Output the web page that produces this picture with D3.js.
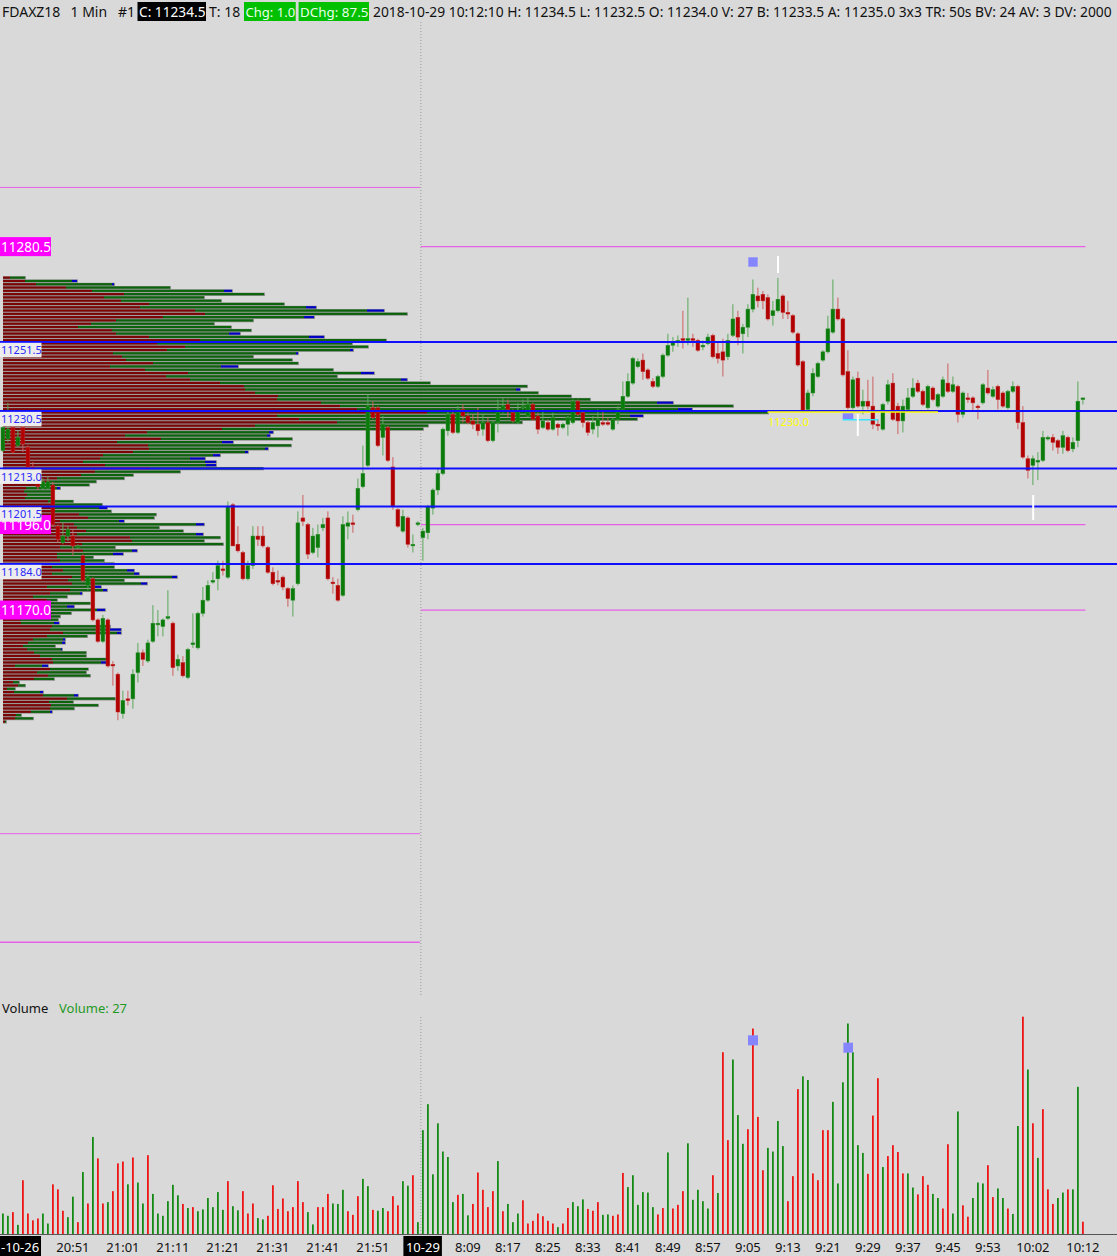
<!DOCTYPE html>
<html><head><meta charset="utf-8">
<script src="https://cdn.jsdelivr.net/npm/d3@7"></script>
<style>html,body{margin:0;padding:0;background:#d9d9d9;overflow:hidden}text{font-family:"Noto Sans",sans-serif}</style>
</head><body>
<svg id="c" width="1117" height="1256"></svg>
<script>
// ---------- DATA ----------
const opens = [11218.5,11222,11225.5,11220,11225.5,11219.5,11213.5,11208.5,11207,11207,11208,11195.5,11190.5,11192.5,11192.5,11189,11186.5,11177.5,11179.5,11167,11160.5,11167,11153.5,11150.5,11138.5,11143,11143,11151,11157,11154.5,11160.5,11165.5,11165,11167.5,11166,11153,11154,11149.5,11159.5,11158.5,11169,11173,11178.5,11179.5,11182.5,11180,11202,11190,11187.5,11179.5,11183.5,11192.5,11192.5,11189,11181.5,11179,11180,11176.5,11173,11178,11198,11196,11187.5,11189,11195,11198,11178.5,11177.5,11174.5,11195.5,11196.5,11200.5,11207.5,11214,11231.5,11231.5,11222.5,11225.5,11213.5,11200.5,11194,11198,11189.5,11196,
11192,11193.5,11201,11206.5,11211.5,11224.5,11229.5,11224,11231,11229,11227.5,11226.5,11225,11227,11221.5,11227,11231,11232.5,11230,11227,11231.5,11229,11232.5,11229,11225.5,11227,11225,11226.5,11225.5,11226.5,11227,11233.5,11230,11227,11225,11226,11227,11227,11225,11228,11231,11235,11239,11244,11246,11243,11239.5,11238,11241,11247.5,11250.5,11251.5,11252.5,11252,11252.5,11252,11250,11251,11253.5,11248,11248.5,11247,11253.5,11259,11254,11256,11261.5,11265.5,11266,11265,11259.5,11261,11265.5,11260.5,11259.5,11254,11245.5,11231,11236,11241,11246,11248.5,11254.5,11261.5,11258.5,11242.5,11231.5,11240.5,11232,11233.5,11232,11226.5,11225,11233.5,11239,11232,11227.5,11231,11235,11239,11236.5,11231.5,11237.5,11232,11235,11239,11236.5,11238,11229.5,11234.5,11234.5,11232,11233,11237.5,11235,11238,11236,11231.5,11236.5,11238,11227,11216,11214,11215,11215.5,11222,11222.5,11221.5,11219.5,11222.5,11219,11221.5,11234];
const highs = [11226,11233,11226,11224.5,11226,11220,11215,11209,11210,11210.5,11209,11196,11196.5,11195.5,11194.5,11190,11187,11181,11180,11167.5,11168.5,11167.5,11154.5,11151,11145.5,11145.5,11152,11160,11158,11161,11171.5,11170,11167.5,11176,11166.5,11156.5,11156,11158.5,11169,11169.5,11177,11179,11181.5,11185,11185,11203,11202.5,11195.5,11188,11185,11195.5,11195.5,11195.5,11189.5,11183,11182,11180.5,11177,11177.5,11200,11205,11196.5,11195,11196,11198,11200,11180,11179.5,11198.5,11200,11199,11210,11220,11235.5,11233.5,11232,11229,11226,11216.5,11201,11200.5,11198.5,11193,11197,
11195,11202,11207,11213,11225.5,11230.5,11231,11232,11232.5,11230,11229.5,11231.5,11229.5,11228.5,11227.5,11234,11234.5,11234,11231,11233,11234,11234.5,11233,11230,11231,11228,11230,11227,11227,11229,11234,11234,11230.5,11227.5,11229,11231,11230.5,11228.5,11228.5,11232,11239.5,11242,11247,11246.5,11248,11243.5,11240.5,11241.5,11248,11254,11253,11253.5,11261,11265,11254,11252.5,11252,11254,11254,11251.5,11252.5,11254,11263,11261,11257,11263,11270.5,11268,11267,11266,11264,11271,11266,11264,11260,11254.5,11246,11237,11243.5,11245.5,11249,11259.5,11270.5,11265,11259,11249,11241,11242.5,11237,11240,11241,11228,11233,11240,11242,11233,11234,11237.5,11240.5,11240,11237,11238.5,11238,11236,11241,11245,11241,11238.5,11236.5,11236,11235,11232.5,11239,11243,11238,11238.5,11236.5,11237,11239.5,11238.5,11232,11217,11217,11218,11224.5,11223,11223.5,11222,11224.5,11223,11222.5,11239.5,11234.5];
const lows = [11218,11221,11217.5,11219.5,11218,11213,11211,11206.5,11206.5,11206.5,11195.5,11190.5,11190,11191,11186.5,11188.5,11178.5,11176,11166.5,11160,11160,11152.5,11147,11136.5,11137,11141,11140,11148,11153,11154,11160,11162,11162,11167,11150,11151.5,11149.5,11149,11158.5,11158,11168,11172.5,11178,11176,11180.5,11179.5,11189.5,11187.5,11179,11179,11182.5,11189.5,11189,11181,11177.5,11177.5,11176,11171,11168,11177.5,11195.5,11185.5,11187,11186,11194,11179,11175,11172.5,11174,11191.5,11193.5,11200,11207,11213.5,11228,11219.5,11217,11215,11200.5,11195,11193.5,11189,11187.5,11195.5,
11185,11191.5,11199,11205,11211,11223,11223.5,11223.5,11227,11226.5,11225,11223,11223,11221,11221,11224,11230,11228.5,11227,11226.5,11231,11228.5,11227.5,11223.5,11225,11224.5,11224.5,11223,11225,11223,11226.5,11229,11225.5,11223,11223.5,11222.5,11226,11226,11224.5,11226.5,11230.5,11234.5,11238.5,11243.5,11240,11240,11237.5,11237.5,11240.5,11247,11248.5,11250,11249.5,11250.5,11250,11248.5,11249,11250.5,11246.5,11245,11241,11246,11253,11250.5,11248,11253,11260.5,11262,11261.5,11258,11256.5,11260.5,11258.5,11258.5,11254,11244,11230,11230.5,11235,11240.5,11245.5,11248,11254,11258,11241,11231,11231,11231.5,11229.5,11231,11225,11224.5,11224.5,11232.5,11227.5,11223.5,11224,11230.5,11234.5,11236,11232,11231,11233.5,11231.5,11234.5,11236,11236,11227,11228.5,11233,11230.5,11228,11232.5,11235.5,11234.5,11231,11231.5,11231,11236,11225,11216,11210,11208,11209.5,11215,11221.5,11218.5,11217.5,11217.5,11218,11218,11219.5,11232.5];
const closes = [11225.5,11225,11218,11222.5,11220.5,11213.5,11212,11207.5,11209,11209,11196,11191.5,11192.5,11194.5,11189.5,11189.5,11179,11180,11167,11160.5,11167.5,11153,11153,11139,11142.5,11142.5,11150.5,11157,11155,11160,11166,11166,11167,11168,11152.5,11155,11150,11158,11160,11169,11173,11177.5,11179,11183.5,11182,11201.5,11189.5,11188,11179.5,11183.5,11192.5,11191.5,11189.5,11181.5,11178,11178.5,11177,11173.5,11176.5,11196.5,11197,11187,11192.5,11193,11196,11179.5,11178,11173,11196,11196.5,11196,11207,11211.5,11232,11228.5,11220,11226.5,11215.5,11201.5,11195.5,11198.5,11190,11190,11196.5,
11194,11201.5,11206.5,11211.5,11225,11229.5,11224,11231,11229,11227,11226.5,11224.5,11227,11221.5,11227,11231,11232,11231,11227.5,11230.5,11232,11232.5,11228,11225,11227.5,11225,11228.5,11225.5,11226.5,11228.5,11233.5,11229.5,11227,11224,11227,11228,11226.5,11226.5,11228,11231,11235,11239.5,11246.5,11245.5,11242.5,11240.5,11238,11241,11247.5,11250.5,11251.5,11252,11252,11252.5,11252,11249,11250.5,11253,11247,11246.5,11246,11252,11258.5,11253,11256,11261.5,11266,11264,11264,11258.5,11261,11264.5,11260.5,11260,11254.5,11244.5,11230.5,11236,11242,11245,11248.5,11255.5,11261.5,11258.5,11241.5,11231.5,11240,11232,11233.5,11232,11226.5,11226,11232.5,11238.5,11228,11227.5,11232,11234.5,11237.5,11236.5,11232.5,11238,11234,11235.5,11240,11236.5,11238.5,11229.5,11236,11234,11233,11231.5,11238.5,11236,11237,11234,11232,11236.5,11238,11227,11216.5,11212.5,11216,11215.5,11222.5,11222.5,11221,11219.5,11223,11218.5,11221,11233.5,11234.5];
const volumes = [45,40,48,20,118,45,30,34,45,23,109,98,51,37,82,26,136,67,213,166,67,70,94,155,159,109,168,113,67,173,88,45,40,72,108,85,66,57,59,50,54,79,59,92,53,116,61,52,94,45,67,35,32,40,107,55,78,50,59,116,70,48,21,59,59,88,67,66,97,50,42,83,121,105,53,51,57,50,83,63,116,106,129,26,
228,285,131,243,181,169,70,86,88,41,66,135,97,59,94,160,50,66,26,45,74,23,29,45,39,29,23,15,23,57,70,61,76,55,51,70,42,43,40,43,134,103,129,64,92,91,59,43,57,179,56,64,94,199,75,97,72,56,129,90,399,206,383,261,198,230,451,257,140,189,181,248,193,72,127,318,346,338,133,118,228,228,290,111,333,462,399,195,178,132,260,342,147,171,195,180,133,133,102,87,127,108,88,79,56,197,45,269,63,38,79,113,111,151,81,100,79,56,44,237,477,361,243,167,274,98,66,79,91,98,98,323,27];
const volDir = "uududddduuddduudududduddduduuduuuuuududuuuuuuduuddduudddddddduuddduuuddduuduuddduuduuuuuuuuduuddddduduuudddddddudduuuddduuddduuuuuudduddduuuuududduuudddduuuuddduudddduuuuuuudddudddduuddduudduudduuudduuduudududdduuduuddduuuududuuu".split("");
// Session profile (price rows, contracts)
const profileTop = 11271;
const profileSell = [7,22,33,63,89,121,101,118,146,137,192,202,160,113,88,75,109,113,146,197,154,182,164,110,119,123,150,107,142,185,163,187,217,241,242,252,275,274,318,337,354,424,274,296,334,252,219,144,122,158,114,145,146,130,100,97,80,102,147,92,78,54,47,37,23,21,24,22,45,52,52,52,76,85,57,71,74,83,74,127,129,79,57,80,54,54,57,47,49,60,49,69,65,69,44,67,47,30,44,47,47,47,45,42,17,18,49,47,60,44,30,25,20,24,31,37,49,50,12,47,34,45,31,10,15,4,11,40,64,46,48,47,28,13,12,2];
const profileBuy = [15,47,76,104,132,140,100,100,135,166,172,202,141,137,123,153,139,113,160,186,195,183,183,183,131,166,145,111,188,173,171,211,210,283,271,283,293,313,336,393,321,341,353,338,185,173,201,122,142,131,105,143,116,112,110,90,122,101,113,85,52,67,46,49,31,27,24,27,25,47,44,56,77,66,59,122,82,97,119,90,72,141,55,49,56,36,44,64,62,64,82,100,56,69,48,33,30,34,10,40,17,47,23,15,38,33,58,60,54,40,30,34,32,34,52,46,54,48,27,38,49,42,20,6,7,8,26,31,48,24,47,24,19,5,18,1];
const profileTip = [0,5,2,0,8,0,0,0,0,10,17,0,10,0,0,0,0,11,15,0,0,0,3,2,0,0,0,17,0,13,0,6,0,0,4,0,0,0,16,0,14,0,13,0,0,0,0,4,3,0,11,0,3,3,7,15,11,10,0,0,0,0,0,0,3,0,0,0,0,0,8,0,0,0,5,8,0,0,7,0,0,0,0,5,10,0,0,0,0,7,5,5,0,6,6,4,2,0,0,0,7,8,0,0,0,5,0,11,4,0,2,3,0,1,0,0,0,5,6,0,0,0,0,0,0,0,3,4,0,0,0,0,2,0,0,0];
// Reference levels
const blueLevels = [11251.5,11230.5,11213.0,11201.5,11184.0];
const todayLevels = [11280.5,11196.0,11170.0];
const priorLevels = [11298.5,11102.0,11069.0];
const pocLevel = 11230.0;
// Axis labels
const tickIdx = [14,24,34,44,54,64,74,84,93,101,109,117,125,133,141,149,157,165,173,181,189,197,206,216];
const tickText = ["20:51","21:01","21:11","21:21","21:31","21:41","21:51","10-29","8:09","8:17","8:25","8:33","8:41","8:49","8:57","9:05","9:13","9:21","9:29","9:37","9:45","9:53","10:02","10:12"];
const firstDateLabel = "-10-26";
const sessionBreak = 83.6;
// Header fields
const headLeft = [["FDAXZ18", 2], ["1 Min", 70.5], ["#1", 118], ["T: 18", 209]];
const headBoxes = [["C: 11234.5", 137.5, 68.5, "#000000"], ["Chg: 1.0", 244, 51.7, "#00c000"], ["DChg: 87.5", 298.6, 70.4, "#00c000"]];
const headRight = "2018-10-29 10:12:10 H: 11234.5 L: 11232.5 O: 11234.0 V: 27 B: 11233.5 A: 11235.0 3x3 TR: 50s BV: 24 AV: 3 DV: 2000";

// ---------- SCALES ----------
const W = 1117, H = 1256;
const svg = d3.select("#c");
const x = d3.scaleLinear().domain([0, 216]).range([2.9, 1082.9]);
const y = d3.scaleLinear().domain([11251.5, 11184]).range([342, 564]);
const vy = d3.scaleLinear().domain([0, 500]).range([1234, 1006.2]);
const px = d3.scaleLinear().domain([0, 800]).range([3, 803]);
const idx = d3.range(opens.length);

svg.append("rect").attr("width", W).attr("height", H).attr("fill", "#d9d9d9");

// session separator (dotted)
const sx = x(sessionBreak);
svg.append("line").attr("x1", sx).attr("x2", sx).attr("y1", 22).attr("y2", 995)
  .attr("stroke", "#9a9a9a").attr("stroke-dasharray", "1,2");
svg.append("line").attr("x1", sx).attr("x2", sx).attr("y1", 1017).attr("y2", 1234)
  .attr("stroke", "#9a9a9a").attr("stroke-dasharray", "1,2");

// prior-session magenta levels (left part)
svg.selectAll("line.prior").data(priorLevels).join("line")
  .attr("x1", 0).attr("x2", sx - 1).attr("y1", d => y(d)).attr("y2", d => y(d))
  .attr("stroke", "#e860e8").attr("stroke-width", (d, i) => i === 2 ? 1.6 : 1);
// today's magenta levels (right part)
svg.selectAll("line.today").data(todayLevels).join("line")
  .attr("x1", sx).attr("x2", 1085.5).attr("y1", d => y(d)).attr("y2", d => y(d))
  .attr("stroke", "#e860e8").attr("stroke-width", 1.2);

// ---------- VOLUME PROFILE ----------
const prof = svg.append("g");
const rows = d3.range(profileSell.length).map(k => ({
  p: profileTop - k, s: profileSell[k], b: profileBuy[k], t: profileTip[k]
}));
rows.forEach(r => {
  const y0 = y(r.p + 0.5), y1 = y(r.p - 0.5), h = y1 - y0;
  const xe = px(r.s + r.b + r.t);
  prof.append("rect").attr("x", 3).attr("y", y0).attr("width", xe - 3 + 1).attr("height", h)
    .attr("fill", "#8e8e8e");
  prof.append("rect").attr("x", 3).attr("y", y0 + 0.35).attr("width", px(r.s) - 3).attr("height", h - 1.1)
    .attr("fill", "#7b0505");
  prof.append("rect").attr("x", px(r.s)).attr("y", y0 + 0.35).attr("width", px(r.s + r.b) - px(r.s)).attr("height", h - 1.1)
    .attr("fill", "#0b640b");
  if (r.t > 0) prof.append("rect").attr("x", px(r.s + r.b)).attr("y", y0 + 0.35)
    .attr("width", px(r.s + r.b + r.t) - px(r.s + r.b)).attr("height", h - 1.1).attr("fill", "#0000c4");
});

// ---------- CANDLES ----------
const up = i => closes[i] >= opens[i];
const cg = svg.append("g");
cg.selectAll("line").data(idx).join("line")
  .attr("x1", i => x(i)).attr("x2", i => x(i))
  .attr("y1", i => y(highs[i])).attr("y2", i => y(lows[i]))
  .attr("stroke", i => up(i) ? "#5aa85a" : "#cc6060").attr("stroke-width", 1);
cg.selectAll("rect").data(idx).join("rect")
  .attr("x", i => x(i) - 1.9).attr("width", 3.8)
  .attr("y", i => y(Math.max(opens[i], closes[i])))
  .attr("height", i => Math.max(1.3, Math.abs(y(opens[i]) - y(closes[i]))))
  .attr("fill", i => up(i) ? "#0a7a0a" : "#b00000")
  .attr("stroke", i => up(i) ? "#2f8f2f" : "#c02a2a").attr("stroke-width", 0.5);

// ---------- BLUE LEVELS ----------
svg.selectAll("line.blue").data(blueLevels).join("line")
  .attr("x1", 0).attr("x2", W).attr("y1", d => y(d)).attr("y2", d => y(d))
  .attr("stroke", "#1010ff").attr("stroke-width", 2);

// POC / markers
svg.append("line").attr("x1", 767.5).attr("x2", 938).attr("y1", y(pocLevel) - 0.7).attr("y2", y(pocLevel) - 0.7)
  .attr("stroke", "#ffff00").attr("stroke-width", 1.7);
svg.append("text").attr("x", 768).attr("y", 425.5).attr("fill", "#ffff00").attr("font-size", 11).text("11230.0");
svg.append("rect").attr("x", 842.7).attr("y", 413.3).attr("width", 10.6).attr("height", 6).attr("fill", "#8585ff");
svg.append("line").attr("x1", 842.7).attr("x2", 878.3).attr("y1", 419.8).attr("y2", 419.8)
  .attr("stroke", "#33e6ff").attr("stroke-width", 1.5);
[[778, 256, 273], [857.8, 414, 436], [1033.2, 495, 520]].forEach(d => {
  svg.append("line").attr("x1", d[0]).attr("x2", d[0]).attr("y1", d[1]).attr("y2", d[2])
    .attr("stroke", "#ffffff").attr("stroke-width", 2);
});
svg.append("rect").attr("x", 748.3).attr("y", 257.3).attr("width", 9.4).attr("height", 9.4).attr("fill", "#8585ff");

// ---------- LEVEL LABELS ----------
todayLevels.forEach(v => {
  const yy = y(v);
  svg.append("rect").attr("x", 0).attr("y", yy - 9.5).attr("width", 51).attr("height", 19).attr("fill", "#ff00ff");
  svg.append("text").attr("x", 1).attr("y", yy + 5).attr("fill", "#ffffff").attr("font-size", 13.5).text(v.toFixed(1));
});
blueLevels.forEach(v => {
  const yy = y(v);
  svg.append("rect").attr("x", 0).attr("y", yy + 0.8).attr("width", 41.5).attr("height", 14.5).attr("fill", "#ededed");
  svg.append("text").attr("x", 1).attr("y", yy + 12).attr("fill", "#2a2aff").attr("font-size", 11).text(v.toFixed(1));
});

// ---------- HEADER ----------
const hdr = svg.append("g").attr("font-size", 14);
const hb = 16.5;
headLeft.forEach(d => hdr.append("text").attr("x", d[1]).attr("y", hb).attr("fill", "#111").text(d[0]));
headBoxes.forEach(d => {
  hdr.append("rect").attr("x", d[1]).attr("y", 2).attr("width", d[2]).attr("height", 19).attr("fill", d[3]);
  const t = hdr.append("text").attr("x", d[1] + 1.5).attr("y", hb).attr("font-size", 14)
    .attr("fill", d[3] === "#000000" ? "#ffffff" : "#eaffea").text(d[0]);
  const w = t.node().getComputedTextLength();
  if (w > d[2] - 2) t.attr("font-size", 14 * (d[2] - 2) / w);
});
const hr = hdr.append("text").attr("x", 373).attr("y", hb).attr("fill", "#111").text(headRight);
const hrw = hr.node().getComputedTextLength();
hr.attr("font-size", 14 * (1112 - 373) / hrw);

// ---------- VOLUME PANEL ----------
svg.append("text").attr("x", 2).attr("y", 1012.5).attr("font-size", 13).attr("fill", "#111").text("Volume");
svg.append("text").attr("x", 59).attr("y", 1012.5).attr("font-size", 13).attr("fill", "#1f9a1f").text("Volume: 27");
svg.append("g").selectAll("rect").data(idx).join("rect")
  .attr("x", i => x(i) - 0.9).attr("width", 1.8)
  .attr("y", i => vy(volumes[i])).attr("height", i => vy(0) - vy(volumes[i]))
  .attr("fill", i => volDir[i] === "u" ? "#148a14" : "#ee1515");
svg.append("rect").attr("x", 748).attr("y", 1035.3).attr("width", 10).attr("height", 10).attr("fill", "#8585ff");
svg.append("rect").attr("x", 843.4).attr("y", 1042.7).attr("width", 9.6).attr("height", 10).attr("fill", "#8585ff");

// ---------- X AXIS ----------
svg.append("line").attr("x1", 0).attr("x2", W).attr("y1", 1234.5).attr("y2", 1234.5).attr("stroke", "#555").attr("stroke-width", 1);
svg.append("rect").attr("x", 0).attr("y", 1236).attr("width", 41).attr("height", 20).attr("fill", "#000");
svg.append("text").attr("x", 1).attr("y", 1252).attr("font-size", 13).attr("fill", "#fff").text(firstDateLabel);
const ax = svg.append("g").attr("font-size", 13);
tickIdx.forEach((t, k) => {
  const boxed = tickText[k].indexOf("-") > 0;
  if (boxed) ax.append("rect").attr("x", x(t) - 19.5).attr("y", 1236).attr("width", 38.5).attr("height", 20).attr("fill", "#000");
  ax.append("text").attr("x", x(t)).attr("y", 1252).attr("text-anchor", "middle")
    .attr("fill", boxed ? "#fff" : "#111").text(tickText[k]);
});
</script>
</body></html>
